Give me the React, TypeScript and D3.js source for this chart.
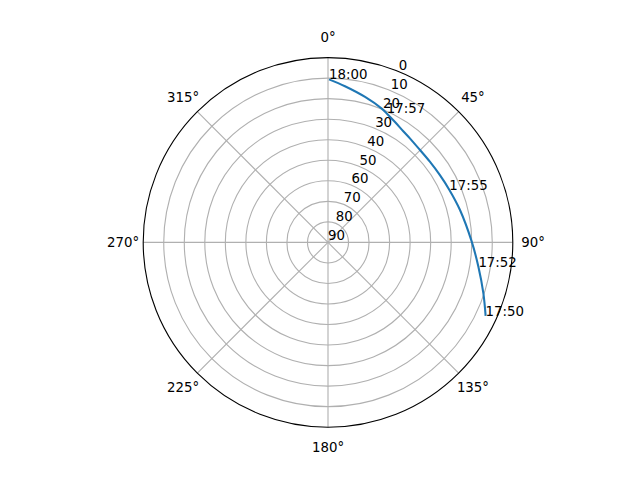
import React from "react";
import * as d3 from "d3";

// Track points ordered in time (17:50 -> 18:00); label "" = unlabeled point
const timeLabels = ["17:50", "", "17:52", "", "", "17:55", "", "", "", "", "", "", "17:57", "", "", "", "18:00"];
const azimuthDeg = [115.0, 108.1, 99.2, 89.7, 76.2, 66.5, 59.0, 51.6, 44.9, 38.2, 34.1, 29.1, 24.5, 21.9, 14.3, 6.2, 0.35];
const elevationDeg = [5.3, 10.4, 15.8, 20.0, 23.8, 25.6, 26.4, 26.7, 26.5, 25.5, 24.6, 22.9, 21.0, 19.8, 16.9, 13.5, 10.6];

const radialTicks = [0, 10, 20, 30, 40, 50, 60, 70, 80, 90];
const angleTicks = [0, 45, 90, 135, 180, 225, 270, 315];

const FONT = "DejaVu Sans, sans-serif";

export default function App() {
  const W = 640;
  const H = 480;
  const cx = 328;
  const cy = 242.4;
  const R = 184.8;

  const rScale = d3.scaleLinear().domain([0, 90]).range([R, 0]);
  const aScale = d3.scaleLinear().domain([0, 360]).range([0, 2 * Math.PI]);

  const idx = d3.range(azimuthDeg.length);
  const linePath = d3
    .lineRadial<number>()
    .curve(d3.curveCatmullRom.alpha(0.5))
    .angle((i) => aScale(azimuthDeg[i]))
    .radius((i) => rScale(elevationDeg[i]))(idx) as string;

  const polar = (deg: number, rad: number) => {
    const t = aScale(deg);
    return [rad * Math.sin(t), -rad * Math.cos(t)];
  };

  const gridColor = "#b0b0b0";
  const gridW = 1.11;

  return (
    <svg
      width={W}
      height={H}
      style={{ position: "absolute", left: 0, top: 0, background: "#fff" }}
    >
      <rect width={W} height={H} fill="#fff" />
      <g transform={`translate(${cx},${cy})`}>
        {/* radial rings */}
        {radialTicks
          .filter((t) => t !== 0 && rScale(t) > 0)
          .map((t) => (
            <circle key={`ring-${t}`} r={rScale(t)} fill="none" stroke={gridColor} strokeWidth={gridW} />
          ))}
        {/* angular grid lines */}
        {angleTicks.map((a) => {
          const [x, y] = polar(a, R);
          return <line key={`spoke-${a}`} x1={0} y1={0} x2={x} y2={y} stroke={gridColor} strokeWidth={gridW} />;
        })}
        {/* data line */}
        <path d={linePath} fill="none" stroke="#1f77b4" strokeWidth={2.08} strokeLinejoin="round" strokeLinecap="butt" />
        {/* outer spine */}
        <circle r={R} fill="none" stroke="#000" strokeWidth={1.11} />
        {/* angle labels */}
        {angleTicks.map((a) => {
          const [x, y] = polar(a, 205);
          return (
            <text key={`al-${a}`} x={x} y={y} fontFamily={FONT} fontSize={13.33} textAnchor="middle" dominantBaseline="central" fill="#000">
              {`${a}°`}
            </text>
          );
        })}
        {/* radial labels */}
        {radialTicks.map((t) => {
          const [x, y] = polar(22.5, rScale(t));
          return (
            <text key={`rl-${t}`} x={x} y={y - 2} fontFamily={FONT} fontSize={13.33} textAnchor="start" fill="#000">
              {t}
            </text>
          );
        })}
        {/* time labels */}
        {idx
          .filter((i) => timeLabels[i] !== "")
          .map((i) => {
            const [x, y] = polar(azimuthDeg[i], rScale(elevationDeg[i]));
            return (
              <text key={`tl-${i}`} x={x} y={y} fontFamily={FONT} fontSize={13.33} textAnchor="start" fill="#000">
                {timeLabels[i]}
              </text>
            );
          })}
      </g>
    </svg>
  );
}
